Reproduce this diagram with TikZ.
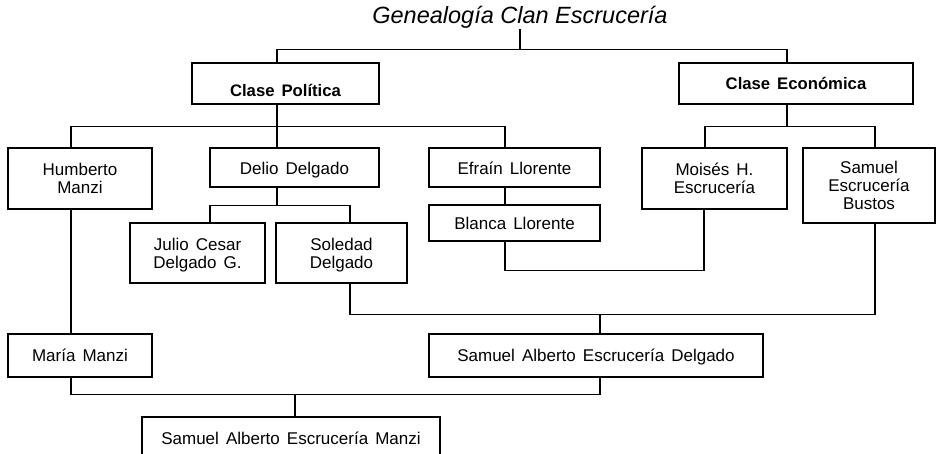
\documentclass[tikz,border=0pt]{standalone}
\usepackage{fontspec}
\setmainfont[WordSpace=1.5]{Liberation Sans}
\newfontfamily\titlefont{Liberation Sans}
\begin{document}
\begin{tikzpicture}[
    x=1pt, y=-1pt,
    every node/.style={align=center, inner sep=0pt},
    person/.style={rectangle, draw=black, line width=1.1pt, text depth=0pt, font=\fontsize{17}{18.3}\selectfont},
    clase/.style={person, font=\fontsize{16.7}{18.3}\selectfont\bfseries},
    line/.style={-, line width=1.1pt, draw=black}
]
    \useasboundingbox (0,0) rectangle (937,454);

    % Nodes - title and the two classes
    \node[anchor=base, font=\titlefont\fontsize{23.5}{26}\selectfont\itshape] (titulo) at (520,24) {Genealogía Clan Escrucería};
    \node[clase, minimum width=187pt, minimum height=41pt, text height=26pt] (politica) at (285.5,83.5) {Clase Política};
    \node[clase, minimum width=234pt, minimum height=41pt, text height=12pt] (economica) at (796,83.5) {Clase Económica};

    % Nodes - first generation
    \node[person, minimum width=144pt, minimum height=61pt] (humberto) at (80,178.5) {Humberto\\Manzi};
    \node[person, minimum width=169pt, minimum height=39pt, text height=15pt] (delio) at (294.5,167.5) {Delio Delgado};
    \node[person, minimum width=171pt, minimum height=39pt, text height=15pt, right of=delio, node distance=220pt] (efrain) {Efraín Llorente};
    \node[person, minimum width=171pt, minimum height=36pt, below of=efrain, node distance=55.5pt] (blanca) {Blanca Llorente};
    \node[person, minimum width=145pt, minimum height=61pt] (moises) at (714.5,178.5) {Moisés H.\\Escrucería};
    \node[person, minimum width=132pt, minimum height=75pt] (bustos) at (869,185.5) {Samuel\\Escrucería\\Bustos};

    % Nodes - second generation
    \node[person, minimum width=135pt, minimum height=60pt] (julio) at (197.5,253) {Julio Cesar\\Delgado G.};
    \node[person, minimum width=131pt, minimum height=60pt, right of=julio, node distance=144pt] (soledad) {Soledad\\Delgado};
    \node[person, minimum width=144pt, minimum height=43pt, below of=humberto, node distance=177pt] (maria) {María Manzi};
    \node[person, minimum width=334pt, minimum height=43pt] (delgado) at (596,355.5) {Samuel Alberto Escrucería Delgado};
    \node[person, minimum width=298pt, minimum height=43pt] (manzi) at (291,438.5) {Samuel Alberto Escrucería Manzi};

    % Lines - title to classes
    \draw[line] ([xshift=-8.5]politica.north) -- ++(0,-13) coordinate (bt) -| ([xshift=-9]economica.north);
    \draw[line] (titulo.south) -- (titulo.south |- bt);

    % Lines - classes to first generation
    \draw[line] ([xshift=-8.5]politica.south) -- ++(0,22) coordinate (bp);
    \draw[line] ([xshift=-9]humberto.north) |- (bp) -| ([xshift=-9.5]efrain.north);
    \draw[line] (bp) -- ([xshift=-17.5]delio.north);
    \draw[line] ([xshift=-9]economica.south) -- ++(0,22) coordinate (be);
    \draw[line] ([xshift=-9.5]moises.north) |- (be) -| ([xshift=6]bustos.north);

    % Lines - families
    \draw[line] ([xshift=-17.5]delio.south) -- ++(0,18) coordinate (bd);
    \draw[line] ([xshift=12.5]julio.north) |- (bd) -| ([xshift=8.5]soledad.north);
    \draw[line] ([xshift=-9.5]efrain.south) -- ([xshift=-9.5]blanca.north);
    \draw[line] ([xshift=-9]humberto.south) -- ([xshift=-9]maria.north);
    \draw[line] ([xshift=-9.5]blanca.south) -- ++(0,29) -| ([xshift=-10.5]moises.south);
    \draw[line] ([xshift=8.5]soledad.south) -- ++(0,31) coordinate (bs) -| ([xshift=6]bustos.south);
    \draw[line] ([xshift=4]delgado.north) -- ([xshift=4]delgado.north |- bs);
    \draw[line] ([xshift=-9]maria.south) -- ++(0,17) coordinate (bm) -| ([xshift=4]delgado.south);
    \draw[line] ([xshift=4]manzi.north) -- ([xshift=4]manzi.north |- bm);

\end{tikzpicture}
\end{document}
